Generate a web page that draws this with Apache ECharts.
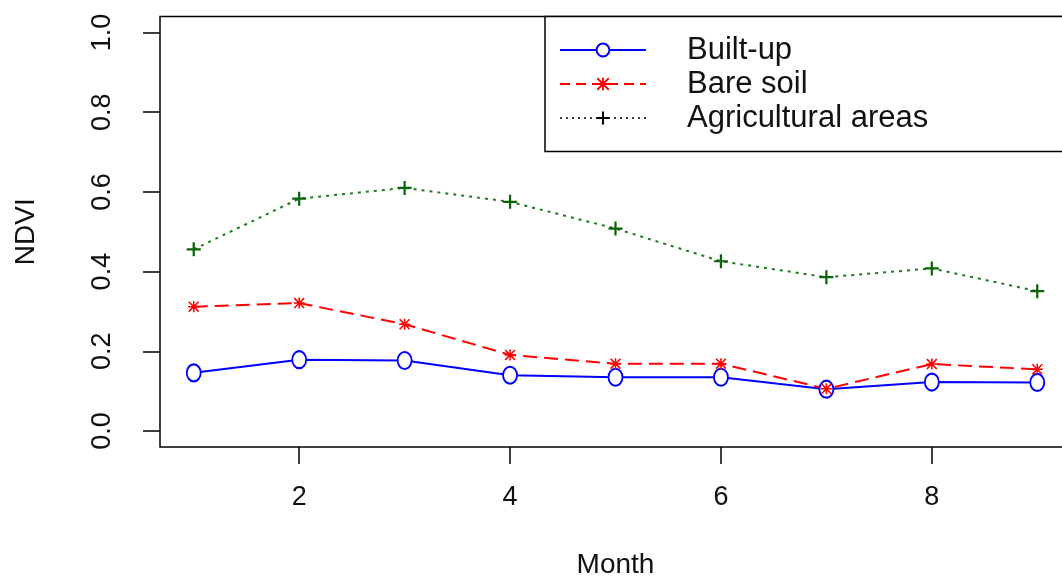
<!DOCTYPE html>
<html>
<head>
<meta charset="utf-8">
<script src="https://cdn.jsdelivr.net/npm/echarts@6/dist/echarts.min.js"></script>
<style>
html,body{margin:0;padding:0;background:#fff;}
#chart{width:1062px;height:579px;}
</style>
</head>
<body>
<div id="chart"></div>
<script>
var months = [1, 2, 3, 4, 5, 6, 7, 8, 9];
var builtUp = [0.146, 0.179, 0.177, 0.140, 0.135, 0.135, 0.105, 0.123, 0.122];
var bareSoil = [0.312, 0.321, 0.268, 0.191, 0.169, 0.169, 0.106, 0.168, 0.155];
var agricultural = [0.456, 0.583, 0.610, 0.575, 0.508, 0.426, 0.386, 0.408, 0.351];
var seriesNames = ['Built-up', 'Bare soil', 'Agricultural areas'];
var xTicks = [2, 4, 6, 8];
var yTicks = [0, 0.2, 0.4, 0.6, 0.8, 1.0];

function pairs(vals) { return months.map(function (m, i) { return [m, vals[i]]; }); }

var plusPath = 'path://M4.2,0H5.8V4.2H10V5.8H5.8V10H4.2V5.8H0V4.2H4.2Z';
var asteriskPath = 'path://M4.3,0H5.7V4.3H10V5.7H5.7V10H4.3V5.7H0V4.3H4.3Z' +
  'M1,0L10,9L9,10L0,1Z M9,0L10,1L1,10L0,9Z';

var FONT = "'Liberation Sans', Arial, sans-serif";
var chart = echarts.init(document.getElementById('chart'));
chart.setOption({
  animation: false,
  backgroundColor: '#fff',
  grid: {
    left: 160, right: -9, top: 16.5, bottom: 132,
    outerBoundsMode: 'none', containLabel: false,
    show: true, borderColor: '#000', borderWidth: 1.5, backgroundColor: 'transparent'
  },
  xAxis: {
    type: 'value', min: 0.68, max: 9.32,
    name: 'Month', nameLocation: 'middle', nameGap: 104,
    nameTextStyle: { fontFamily: FONT, fontSize: 28, color: '#111' },
    axisLine: { show: false, onZero: false },
    splitLine: { show: false },
    axisTick: { show: true, length: 17, lineStyle: { color: '#000', width: 1.5 }, customValues: xTicks },
    axisLabel: { margin: 37, fontFamily: FONT, fontSize: 27, color: '#111', customValues: xTicks }
  },
  yAxis: {
    type: 'value', min: -0.04, max: 1.04,
    name: 'NDVI', nameLocation: 'middle', nameGap: 120, nameRotate: 90,
    nameTextStyle: { fontFamily: FONT, fontSize: 28, color: '#111' },
    axisLine: { show: false, onZero: false },
    splitLine: { show: false },
    axisTick: { show: true, length: 17, lineStyle: { color: '#000', width: 1.5 }, customValues: yTicks },
    axisLabel: {
      margin: 44, rotate: 90, fontFamily: FONT, fontSize: 27, color: '#111', customValues: yTicks,
      formatter: function (v) { return v.toFixed(1); }
    }
  },
  legend: {
    orient: 'vertical', left: 545, top: 16.5,
    padding: [18, 170, 18, 14],
    borderColor: '#000', borderWidth: 1.5, backgroundColor: '#fff',
    itemWidth: 86, itemHeight: 16, itemGap: 3,
    textStyle: { fontFamily: FONT, fontSize: 31, color: '#111', padding: [0, 0, 0, 36] },
    data: [
      { name: seriesNames[0], lineStyle: { color: '#0000ff', width: 2, type: 'solid' } },
      { name: seriesNames[1], itemStyle: { color: '#ff0000' }, lineStyle: { color: '#ff0000', width: 2, type: [10, 6] } },
      { name: seriesNames[2], itemStyle: { color: '#000' }, lineStyle: { color: '#000', width: 1.5, type: [2, 4] } }
    ]
  },
  series: [
    {
      name: seriesNames[0], type: 'line', data: pairs(builtUp),
      symbol: 'emptyCircle', symbolSize: [14, 17],
      itemStyle: { color: '#0000ff', borderColor: '#0000ff', borderWidth: 2 },
      lineStyle: { color: '#0000ff', width: 2 }
    },
    {
      name: seriesNames[1], type: 'line', data: pairs(bareSoil),
      symbol: asteriskPath, symbolSize: 11,
      itemStyle: { color: '#ff0000', borderWidth: 0 },
      lineStyle: { color: '#ff0000', width: 2, type: [14, 7] }
    },
    {
      name: seriesNames[2], type: 'line', data: pairs(agricultural),
      symbol: plusPath, symbolSize: 14,
      itemStyle: { color: '#0a640a', borderWidth: 0 },
      lineStyle: { color: '#1f7a1f', width: 2, type: [3, 5] }
    }
  ]
});
</script>
</body>
</html>
